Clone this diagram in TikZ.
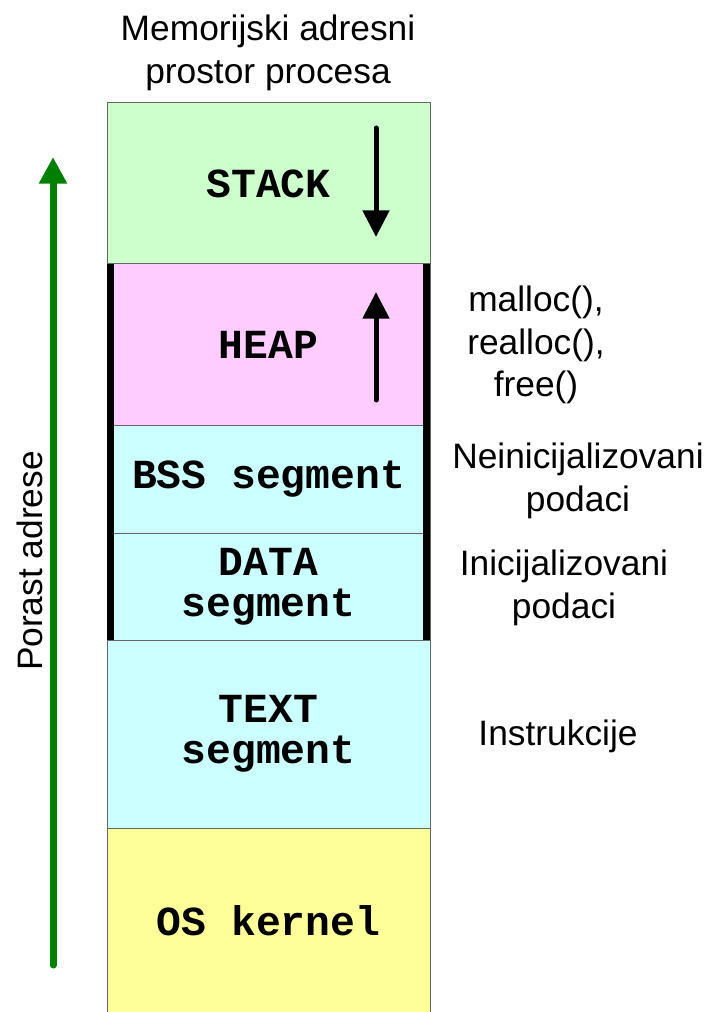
\documentclass[tikz,border=0pt]{standalone}
\usepackage{fontspec}
\setmainfont{Liberation Sans}
\newfontfamily\monofont{Liberation Mono}
\usetikzlibrary{arrows.meta}
\definecolor{stackc}{HTML}{CCFFCC}
\definecolor{heapc}{HTML}{FFCCFF}
\definecolor{segc}{HTML}{CCFFFF}
\definecolor{osc}{HTML}{FFFF99}
\definecolor{arrowgreen}{HTML}{008000}
\begin{document}
\begin{tikzpicture}[x=0.75pt,y=-0.75pt,
  seg/.style={draw=black!60, line width=0.75pt, minimum width=242.25pt, inner sep=0pt, outer sep=0pt,
    font=\monofont\bfseries\fontsize{31}{31}\selectfont, align=center},
  lab/.style={font=\fontsize{26.5}{32}\selectfont, align=center, inner sep=0pt},
  sideline/.style={line width=5.25pt, black, line cap=butt},
  growarrow/.style={line width=3.75pt, line cap=round, -{Triangle[width=19.5pt,length=20pt]}},
  addrarrow/.style={line width=5.25pt, arrowgreen, line cap=round, -{Triangle[width=20pt,length=20pt]}}]
\useasboundingbox (0,0) rectangle (708,1012);
% segments
\node[seg, fill=stackc, minimum height=120.75pt] (stack) at (268.5,183.5) {STACK};
\node[seg, fill=heapc, minimum height=120.75pt] (heap) at (268.5,344.5) {HEAP};
\node[seg, fill=segc, minimum height=81pt] (bss) at (268.5,479) {BSS segment};
\node[seg, fill=segc, minimum height=80.25pt] (data) at (268.5,586.5) {DATA\\segment};
\node[seg, fill=segc, minimum height=141pt] (text) at (268.5,734) {TEXT\\segment};
\node[seg, fill=osc, minimum height=139.5pt] (os) at (268.5,921) {OS kernel};
% thick side bars
\draw[sideline] ([shift={(3.5,0)}]heap.north west) -- ([shift={(3.5,0)}]data.south west);
\draw[sideline] ([shift={(-3.5,0)}]heap.north east) -- ([shift={(-3.5,0)}]data.south east);
% growth arrows
\coordinate (s1) at (376,128);
\coordinate (s2) at (376,237);
\draw[growarrow] (s1) -- (s2);
\coordinate (h1) at (376,400);
\coordinate (h2) at (376,292);
\draw[growarrow] (h1) -- (h2);
% address growth
\coordinate (g1) at (53,965);
\coordinate (g2) at (53,157);
\draw[addrarrow] (g1) -- (g2);
% labels
\node[lab] (title) at (268,53) {Memorijski adresni\\prostor procesa};
\node[lab] (alloc) at (536,345) {malloc(),\\realloc(),\\free()};
\node[lab] (bsslab) at (578,481) {Neinicijalizovani\\podaci};
\node[lab] (datalab) at (564,588) {Inicijalizovani\\podaci};
\node[lab] (textlab) at (558,736) {Instrukcije};
\node[lab, rotate=90] (porast) at (30,561) {Porast adrese};
\end{tikzpicture}
\end{document}
